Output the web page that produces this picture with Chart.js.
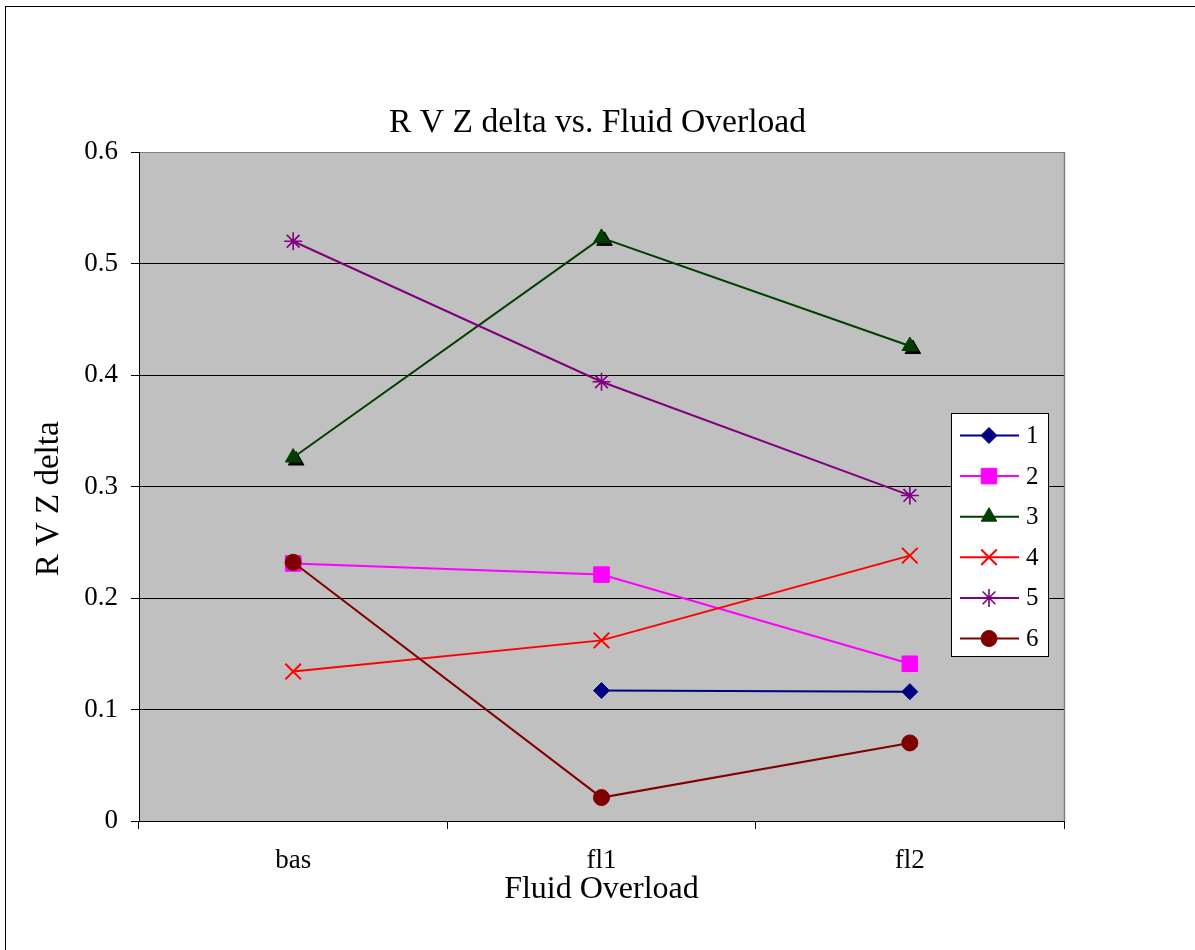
<!DOCTYPE html>
<html>
<head>
<meta charset="utf-8">
<script src="https://cdn.jsdelivr.net/npm/chart.js@4/dist/chart.umd.min.js"></script>
<style>
  html, body { margin: 0; padding: 0; background: #fff; }
  canvas { display: block; }
</style>
</head>
<body>
<canvas id="c" width="1195" height="950"></canvas>
<script>
// ---- data ----
const categories = ['bas', 'fl1', 'fl2'];
const seriesNames = ['1', '2', '3', '4', '5', '6'];
const s1 = [null, 0.117, 0.116];
const s2 = [0.231, 0.221, 0.141];
const s3 = [0.326, 0.523, 0.426];
const s4 = [0.134, 0.162, 0.238];
const s5 = [0.520, 0.394, 0.292];
const s6 = [0.232, 0.021, 0.070];
const yTickLabels = ['0', '0.1', '0.2', '0.3', '0.4', '0.5', '0.6'];

const seriesValues = [s1, s2, s3, s4, s5, s6];
const colors = ['#000080', '#FF00FF', '#003F00', '#FF0000', '#800080', '#800000'];
const styles = ['rectRot', 'rect', 'triangle', 'crossRot', 'star', 'circle'];
const radii = [8, 11, 9, 11, 9, 8];
const pBorder = [1, 1, 1, 2, 1.6, 1];

const SERIF = "'Liberation Serif', 'Times New Roman', serif";

const datasets = seriesValues.map((vals, i) => ({
  label: seriesNames[i],
  data: vals,
  borderColor: colors[i],
  backgroundColor: colors[i],
  borderWidth: 2,
  pointStyle: styles[i],
  pointRadius: radii[i],
  pointHoverRadius: radii[i],
  pointBorderColor: colors[i],
  pointBackgroundColor: colors[i],
  pointBorderWidth: pBorder[i],
  tension: 0,
  fill: false,
  order: 6 - i
}));

function drawMarker(ctx, style, r, x, y, color, bw) {
  ctx.save();
  ctx.fillStyle = color; ctx.strokeStyle = color; ctx.lineWidth = bw;
  if (Chart.helpers && Chart.helpers.drawPoint) {
    Chart.helpers.drawPoint(ctx, { pointStyle: style, radius: r, rotation: 0, borderWidth: bw }, x, y);
  }
  ctx.restore();
}

const framePlugin = {
  id: 'frame',
  beforeDraw(chart) {
    const ctx = chart.ctx, a = chart.chartArea;
    ctx.save();
    ctx.fillStyle = '#ffffff';
    ctx.fillRect(0, 0, chart.width, chart.height);
    ctx.strokeStyle = '#000';
    ctx.lineWidth = 1;
    ctx.strokeRect(5.5, 6.5, chart.width + 10, chart.height + 10);
    ctx.fillStyle = '#C0C0C0';
    ctx.fillRect(a.left, a.top, a.right - a.left, a.bottom - a.top);
    ctx.restore();
  },
  beforeDatasetsDraw(chart) {
    const ctx = chart.ctx, a = chart.chartArea;
    ctx.save();
    ctx.strokeStyle = '#808080';
    ctx.lineWidth = 1.5;
    ctx.beginPath();
    ctx.moveTo(a.right + 0.5, a.top);
    ctx.lineTo(a.right + 0.5, a.bottom);
    ctx.stroke();
    ctx.restore();
  },
  beforeDatasetDraw(chart, args) {
    // black shadow behind triangle markers (series 3)
    if (args.index !== 2) return;
    const ctx = chart.ctx;
    const meta = args.meta;
    ctx.save();
    meta.data.forEach(pt => {
      if (pt.skip) return;
      drawMarker(ctx, 'triangle', radii[2], pt.x + 3, pt.y + 3, '#000', 1);
    });
    ctx.restore();
  },
  afterDraw(chart) {
    const ctx = chart.ctx;
    // legend box
    const bx = 951.5, by = 413.5, bw = 97, bh = 243;
    ctx.save();
    ctx.fillStyle = '#fff';
    ctx.fillRect(bx, by, bw, bh);
    ctx.strokeStyle = '#000';
    ctx.lineWidth = 1;
    ctx.strokeRect(bx, by, bw, bh);
    ctx.font = '25px ' + SERIF;
    ctx.textBaseline = 'middle';
    ctx.textAlign = 'left';
    seriesNames.forEach((name, i) => {
      const y = 435.5 + i * 40.6;
      ctx.strokeStyle = colors[i];
      ctx.lineWidth = 2;
      ctx.beginPath();
      ctx.moveTo(960, y);
      ctx.lineTo(1019, y);
      ctx.stroke();
      drawMarker(ctx, styles[i], radii[i], 989, y, colors[i], pBorder[i]);
      ctx.fillStyle = '#000';
      ctx.fillText(name, 1026, y + 1);
    });
    ctx.restore();
  }
};

new Chart(document.getElementById('c'), {
  type: 'line',
  data: { labels: categories, datasets },
  plugins: [framePlugin],
  options: {
    responsive: false,
    animation: false,
    events: [],
    layout: { padding: { left: 0, right: 0, top: 0, bottom: 0 } },
    plugins: {
      legend: { display: false },
      tooltip: { enabled: false },
      title: {
        display: true,
        text: 'R V Z delta vs. Fluid Overload',
        color: '#000',
        font: { family: SERIF, size: 33.6, weight: 'normal', lineHeight: 1.2 },
        padding: { top: 103, bottom: 8.7 }
      }
    },
    scales: {
      x: {
        type: 'category',
        offset: true,
        grid: {
          offset: true,
          drawOnChartArea: false,
          drawTicks: true,
          tickLength: 8,
          tickColor: '#000',
          color: '#000'
        },
        border: { display: true, color: '#000', width: 1 },
        ticks: {
          color: '#000',
          padding: 16,
          font: { family: SERIF, size: 27 },
          maxRotation: 0,
          autoSkip: false
        },
        title: {
          display: true,
          text: 'Fluid Overload',
          color: '#000',
          font: { family: SERIF, size: 32, lineHeight: 1.2 },
          padding: { top: 4, bottom: 41 }
        },
        afterFit(scale) { scale.height = 129; }
      },
      y: {
        min: 0,
        max: 0.6,
        grid: {
          color: ctx => (ctx.tick && ctx.tick.value > 0.55) ? '#808080' : '#000',
          lineWidth: 1,
          tickLength: 8,
          tickColor: '#000'
        },
        border: { display: true, color: '#000', width: 1 },
        ticks: {
          stepSize: 0.1,
          color: '#000',
          padding: 13,
          font: { family: SERIF, size: 27 },
          callback: (v, i) => yTickLabels[i]
        },
        title: {
          display: true,
          text: 'R V Z delta   ',
          color: '#000',
          font: { family: SERIF, size: 33, lineHeight: 1.2 },
          padding: { top: 30, bottom: 4 }
        },
        afterFit(scale) { scale.width = 139; }
      },
      spacer: {
        type: 'linear',
        position: 'right',
        display: true,
        grid: { display: false, drawTicks: false },
        border: { display: false },
        ticks: { display: false },
        title: { display: false },
        afterFit(scale) { scale.width = 131; }
      }
    }
  }
});
</script>
</body>
</html>
